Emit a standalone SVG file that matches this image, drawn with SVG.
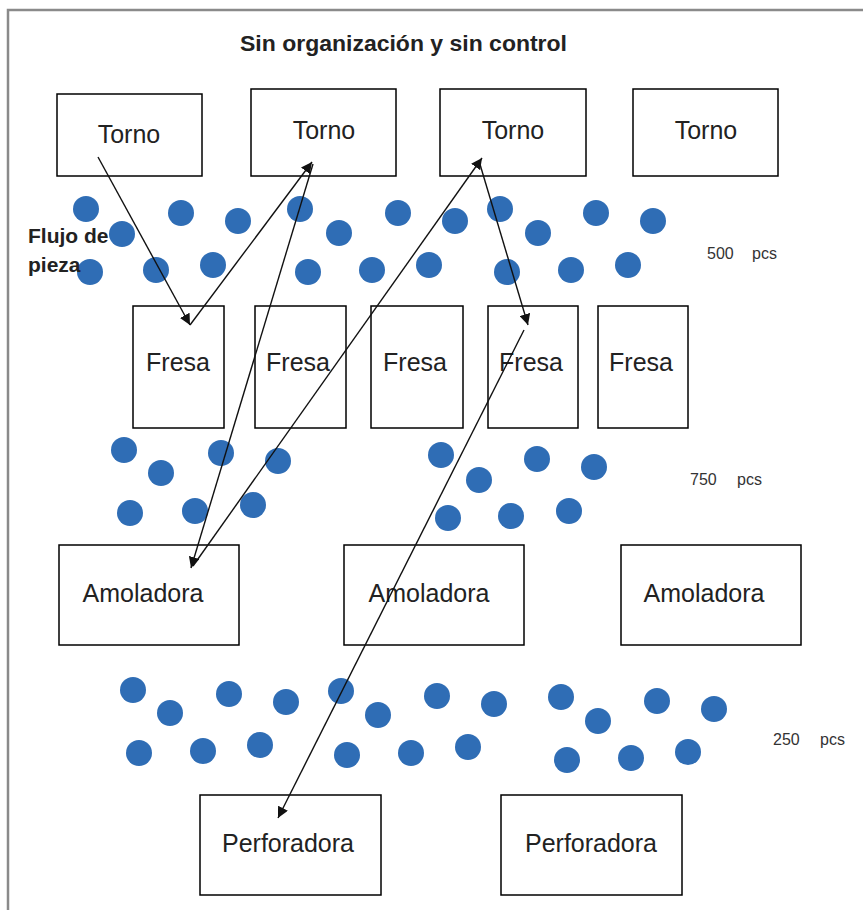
<svg xmlns="http://www.w3.org/2000/svg" width="863" height="910" viewBox="0 0 863 910">
  <style>
    .box { fill: #ffffff; stroke: #000000; stroke-width: 1.5; }
    .lbl { font-family: "Liberation Sans", Arial, sans-serif; font-size: 25px; fill: #222222; text-anchor: middle; dominant-baseline: central; }
    .dot { fill: #2f6db5; }
    .flow { stroke: #111111; stroke-width: 1.4; fill: none; marker-end: url(#tip); }
    .note { font-family: "Liberation Sans", Arial, sans-serif; font-size: 16px; fill: #333333; }
    .bold { font-family: "Liberation Sans", Arial, sans-serif; font-weight: bold; fill: #222222; }
  </style>
  <defs>
    <marker id="tip" viewBox="0 0 10 10" refX="10" refY="5" markerWidth="11" markerHeight="11" markerUnits="userSpaceOnUse" orient="auto">
      <path d="M0,0 L10,5 L0,10 z" fill="#111111"/>
    </marker>
  </defs>

  <rect width="863" height="910" fill="#ffffff"/>
  <!-- frame -->
  <path d="M8,910 L8,10 L863,10" fill="none" stroke="#8a8a8a" stroke-width="2.5"/>

  <text class="bold" x="240" y="51" font-size="22" textLength="327" lengthAdjust="spacingAndGlyphs">Sin organización y sin control</text>

  <!-- machines -->
  <g id="torno1"><rect class="box" x="57" y="94" width="145" height="82"/><text class="lbl" x="129" y="134">Torno</text></g>
  <g id="torno2"><rect class="box" x="251" y="89" width="145" height="87"/><text class="lbl" x="324" y="130">Torno</text></g>
  <g id="torno3"><rect class="box" x="440" y="89" width="146" height="87"/><text class="lbl" x="513" y="130">Torno</text></g>
  <g id="torno4"><rect class="box" x="633" y="89" width="145" height="87"/><text class="lbl" x="706" y="130">Torno</text></g>

  <g id="fresa1"><rect class="box" x="133" y="306" width="91" height="122"/><text class="lbl" x="178" y="362">Fresa</text></g>
  <g id="fresa2"><rect class="box" x="255" y="306" width="91" height="122"/><text class="lbl" x="298" y="362">Fresa</text></g>
  <g id="fresa3"><rect class="box" x="371" y="306" width="92" height="122"/><text class="lbl" x="415" y="362">Fresa</text></g>
  <g id="fresa4"><rect class="box" x="488" y="306" width="90" height="122"/><text class="lbl" x="531" y="362">Fresa</text></g>
  <g id="fresa5"><rect class="box" x="598" y="306" width="90" height="122"/><text class="lbl" x="641" y="362">Fresa</text></g>

  <g id="amoladora1"><rect class="box" x="59" y="545" width="180" height="100"/><text class="lbl" x="143" y="593">Amoladora</text></g>
  <g id="amoladora2"><rect class="box" x="344" y="545" width="180" height="100"/><text class="lbl" x="429" y="593">Amoladora</text></g>
  <g id="amoladora3"><rect class="box" x="621" y="545" width="180" height="100"/><text class="lbl" x="704" y="593">Amoladora</text></g>

  <g id="perforadora1"><rect class="box" x="200" y="795" width="181" height="100"/><text class="lbl" x="288" y="843">Perforadora</text></g>
  <g id="perforadora2"><rect class="box" x="501" y="795" width="181" height="100"/><text class="lbl" x="591" y="843">Perforadora</text></g>

  <!-- parts waiting between stations -->
  <g id="stock">
    <circle class="dot" cx="86" cy="209" r="13"/><circle class="dot" cx="122" cy="234" r="13"/>
    <circle class="dot" cx="181" cy="213" r="13"/><circle class="dot" cx="238" cy="221" r="13"/>
    <circle class="dot" cx="90" cy="272" r="13"/><circle class="dot" cx="156" cy="270" r="13"/>
    <circle class="dot" cx="213" cy="265" r="13"/>
    <circle class="dot" cx="300" cy="209" r="13"/><circle class="dot" cx="339" cy="233" r="13"/>
    <circle class="dot" cx="398" cy="213" r="13"/><circle class="dot" cx="455" cy="221" r="13"/>
    <circle class="dot" cx="308" cy="272" r="13"/><circle class="dot" cx="372" cy="270" r="13"/>
    <circle class="dot" cx="429" cy="265" r="13"/>
    <circle class="dot" cx="500" cy="209" r="13"/><circle class="dot" cx="538" cy="233" r="13"/>
    <circle class="dot" cx="596" cy="213" r="13"/><circle class="dot" cx="653" cy="221" r="13"/>
    <circle class="dot" cx="507" cy="272" r="13"/><circle class="dot" cx="571" cy="270" r="13"/>
    <circle class="dot" cx="628" cy="265" r="13"/>

    <circle class="dot" cx="124" cy="450" r="13"/><circle class="dot" cx="161" cy="473" r="13"/>
    <circle class="dot" cx="221" cy="453" r="13"/><circle class="dot" cx="278" cy="461" r="13"/>
    <circle class="dot" cx="130" cy="513" r="13"/><circle class="dot" cx="195" cy="511" r="13"/>
    <circle class="dot" cx="253" cy="505" r="13"/>
    <circle class="dot" cx="441" cy="455" r="13"/><circle class="dot" cx="479" cy="480" r="13"/>
    <circle class="dot" cx="537" cy="459" r="13"/><circle class="dot" cx="594" cy="467" r="13"/>
    <circle class="dot" cx="448" cy="518" r="13"/><circle class="dot" cx="511" cy="516" r="13"/>
    <circle class="dot" cx="569" cy="511" r="13"/>

    <circle class="dot" cx="133" cy="690" r="13"/><circle class="dot" cx="170" cy="713" r="13"/>
    <circle class="dot" cx="229" cy="694" r="13"/><circle class="dot" cx="286" cy="702" r="13"/>
    <circle class="dot" cx="139" cy="753" r="13"/><circle class="dot" cx="203" cy="751" r="13"/>
    <circle class="dot" cx="260" cy="745" r="13"/>
    <circle class="dot" cx="341" cy="691" r="13"/><circle class="dot" cx="378" cy="715" r="13"/>
    <circle class="dot" cx="437" cy="696" r="13"/><circle class="dot" cx="494" cy="704" r="13"/>
    <circle class="dot" cx="347" cy="755" r="13"/><circle class="dot" cx="411" cy="753" r="13"/>
    <circle class="dot" cx="468" cy="747" r="13"/>
    <circle class="dot" cx="561" cy="697" r="13"/><circle class="dot" cx="598" cy="721" r="13"/>
    <circle class="dot" cx="657" cy="701" r="13"/><circle class="dot" cx="714" cy="709" r="13"/>
    <circle class="dot" cx="567" cy="760" r="13"/><circle class="dot" cx="631" cy="758" r="13"/>
    <circle class="dot" cx="688" cy="752" r="13"/>
  </g>

  <!-- part route -->
  <g id="connectors">
    <line class="flow" x1="98" y1="157" x2="190" y2="325"/>
    <line class="flow" x1="190" y1="325" x2="312" y2="162"/>
    <line class="flow" x1="313" y1="164" x2="191" y2="568"/>
    <line class="flow" x1="193" y1="566" x2="482" y2="158"/>
    <line class="flow" x1="479" y1="161" x2="528" y2="325"/>
    <line class="flow" x1="524" y1="330" x2="278" y2="818"/>
  </g>

  <text class="bold" x="28" y="243" font-size="21">Flujo de</text>
  <text class="bold" x="28" y="272" font-size="21">pieza</text>

  <text class="note" x="707" y="259">500</text><text class="note" x="752" y="259">pcs</text>
  <text class="note" x="690" y="485">750</text><text class="note" x="737" y="485">pcs</text>
  <text class="note" x="773" y="745">250</text><text class="note" x="820" y="745">pcs</text>
</svg>
